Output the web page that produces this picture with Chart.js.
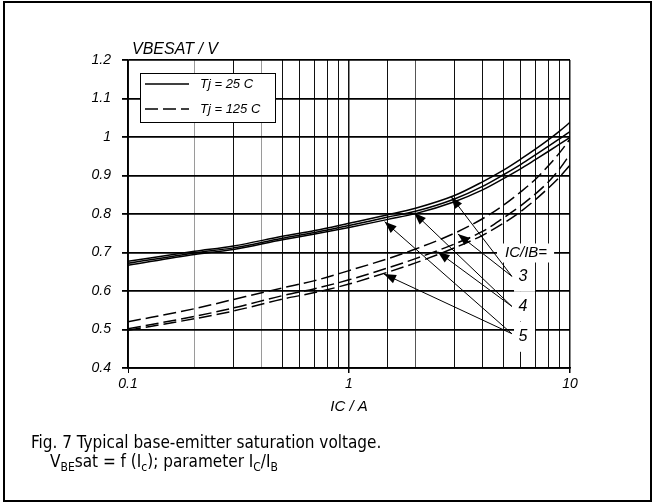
<!DOCTYPE html>
<html>
<head>
<meta charset="utf-8">
<script src="https://cdn.jsdelivr.net/npm/chart.js@4/dist/chart.umd.min.js"></script>
<style>
  html, body { margin: 0; padding: 0; background: #fff; }
  #wrap { position: relative; width: 652px; height: 504px; overflow: hidden; }
  #frame { position: absolute; left: 3px; top: 1px; width: 645px; height: 497px; border: 2px solid #000; pointer-events: none; }
  canvas { position: absolute; left: 0; top: 0; }
  #caption { position: absolute; left: 31px; top: 433px; font-family: 'Liberation Sans Narrow', 'DejaVu Sans Condensed', 'Liberation Sans', sans-serif; font-size: 17px; line-height: 19px; color: #000; white-space: nowrap; }
  #caption .l2 { padding-left: 19px; }
  #caption sub { font-size: 12px; line-height: 0; vertical-align: -4px; }
</style>
</head>
<body>
<div id="wrap">
  <canvas id="c" width="652" height="504"></canvas>
  <div id="caption">Fig. 7 Typical base-emitter saturation voltage.<br><span class="l2">V<sub>BE</sub>sat = f (I<sub>c</sub>); parameter I<sub>C</sub>/I<sub>B</sub></span></div>
  <div id="frame"></div>
</div>
<script>
// Collector current samples (A)
const currents = [0.1, 0.2, 0.3, 0.5, 0.7, 1, 1.5, 2, 3, 4, 5, 6, 7, 8, 9, 10];

// VBE(sat) in volts, Tj = 25 C, for IC/IB = 3, 4, 5
const vbe25_ratio3 = [0.677, 0.703, 0.717, 0.742, 0.757, 0.776, 0.798, 0.815, 0.848, 0.883, 0.914, 0.943, 0.969, 0.993, 1.016, 1.038];
const vbe25_ratio4 = [0.672, 0.699, 0.712, 0.737, 0.752, 0.770, 0.792, 0.807, 0.839, 0.871, 0.902, 0.929, 0.954, 0.976, 0.996, 1.014];
const vbe25_ratio5 = [0.667, 0.695, 0.708, 0.733, 0.748, 0.765, 0.786, 0.801, 0.832, 0.862, 0.892, 0.918, 0.942, 0.963, 0.982, 0.999];

// VBE(sat) in volts, Tj = 125 C, for IC/IB = 3, 4, 5
const vbe125_ratio3 = [0.520, 0.554, 0.578, 0.608, 0.627, 0.653, 0.684, 0.709, 0.750, 0.787, 0.823, 0.858, 0.891, 0.926, 0.960, 0.995];
const vbe125_ratio4 = [0.502, 0.534, 0.556, 0.588, 0.606, 0.629, 0.660, 0.684, 0.722, 0.754, 0.790, 0.822, 0.853, 0.884, 0.918, 0.955];
const vbe125_ratio5 = [0.498, 0.528, 0.548, 0.579, 0.596, 0.618, 0.649, 0.673, 0.712, 0.744, 0.776, 0.807, 0.838, 0.868, 0.897, 0.927];

// Axis tick labels
const xTickLabels = [0.1, 1, 10];
const yMin = 0.4, yMax = 1.2, yStep = 0.1;

// Legend entries
const legendNames = ['Tj = 25 C', 'Tj = 125 C'];

// IC/IB parameter callouts (data coordinates: current in A, voltage in V)
const ratioTitle = 'IC/IB=';
const ratioTitlePos = [5.08, 0.70];
const ratioNames = ['3', '4', '5'];
const ratioLabelIc = 6.13;
const ratioLabelV = [0.638, 0.560, 0.481];
const arrowTailIc = 5.46;
const arrowTailV = [0.638, 0.560, 0.489];
const arrowTips25 = [[2.90, 0.845], [1.97, 0.803], [1.45, 0.780]];
const arrowTips125 = [[3.11, 0.748], [2.52, 0.702], [1.44, 0.644]];

const FONT = "'Liberation Sans', Arial, Helvetica, sans-serif";
const DASH = [13, 5];

function pts(vals) { return currents.map((x, i) => ({ x: x, y: vals[i] })); }

function line(label, vals, dashed) {
  return {
    label: label,
    data: pts(vals),
    borderColor: '#000',
    borderWidth: 1.5,
    borderDash: dashed ? DASH : [],
    pointRadius: 0,
    fill: false,
    tension: 0.4,
    cubicInterpolationMode: 'monotone'
  };
}

function near(v, t) { return Math.abs(Math.log10(v) - Math.log10(t)) < 1e-6; }
function isLabelled(v) { return xTickLabels.some(t => near(v, t)); }

// Draws callout backgrounds, arrows, parameter labels and the legend box
const annotations = {
  id: 'annotations',
  beforeDatasetsDraw(chart) {
    const ctx = chart.ctx, xs = chart.scales.x, ys = chart.scales.y, a = chart.chartArea;
    ctx.save();
    ctx.fillStyle = '#fff';
    // white backing behind the parameter labels
    ctx.font = 'italic 15px ' + FONT;
    const tx = xs.getPixelForValue(ratioTitlePos[0]);
    const ty = ys.getPixelForValue(ratioTitlePos[1]);
    const tw = ctx.measureText(ratioTitle).width;
    ctx.fillRect(tx - 8, ty - 9, tw + 15, 19);
    ratioNames.forEach((n, i) => {
      const cx = xs.getPixelForValue(ratioLabelIc);
      const cy = ys.getPixelForValue(ratioLabelV[i]);
      ctx.fillRect(cx - 9, cy - 15, 21, 30);
    });
    // legend box
    const lx = a.left + 12, ly = a.top + 13, lw = 135, lh = 49;
    ctx.fillRect(lx, ly, lw, lh);
    ctx.strokeStyle = '#000';
    ctx.lineWidth = 1;
    ctx.strokeRect(lx + 0.5, ly + 0.5, lw, lh);
    ctx.restore();
  },
  afterDatasetsDraw(chart) {
    const ctx = chart.ctx, xs = chart.scales.x, ys = chart.scales.y, a = chart.chartArea;
    ctx.save();
    ctx.strokeStyle = '#000';
    ctx.fillStyle = '#000';
    ctx.lineWidth = 1;
    const arrow = (x0, y0, x1, y1) => {
      ctx.beginPath();
      ctx.moveTo(x0, y0);
      ctx.lineTo(x1, y1);
      ctx.stroke();
      const ang = Math.atan2(y1 - y0, x1 - x0);
      const L = 12, W = 4.5;
      const bx = x1 - L * Math.cos(ang), by = y1 - L * Math.sin(ang);
      ctx.beginPath();
      ctx.moveTo(x1, y1);
      ctx.lineTo(bx + W * Math.sin(ang), by - W * Math.cos(ang));
      ctx.lineTo(bx - W * Math.sin(ang), by + W * Math.cos(ang));
      ctx.closePath();
      ctx.fill();
    };
    ratioNames.forEach((n, i) => {
      const x0 = xs.getPixelForValue(arrowTailIc), y0 = ys.getPixelForValue(arrowTailV[i]);
      arrow(x0, y0, xs.getPixelForValue(arrowTips25[i][0]), ys.getPixelForValue(arrowTips25[i][1]));
      arrow(x0, y0, xs.getPixelForValue(arrowTips125[i][0]), ys.getPixelForValue(arrowTips125[i][1]));
    });
    // parameter labels
    ctx.font = 'italic 15px ' + FONT;
    ctx.textBaseline = 'middle';
    ctx.textAlign = 'left';
    ctx.fillText(ratioTitle, xs.getPixelForValue(ratioTitlePos[0]), ys.getPixelForValue(ratioTitlePos[1]));
    ctx.font = 'italic 16px ' + FONT;
    ctx.textAlign = 'center';
    ratioNames.forEach((n, i) => {
      ctx.fillText(n, xs.getPixelForValue(ratioLabelIc), ys.getPixelForValue(ratioLabelV[i]));
    });
    // legend entries
    const lx = a.left + 12, ly = a.top + 13;
    ctx.lineWidth = 1.5;
    ctx.font = 'italic 13px ' + FONT;
    ctx.textAlign = 'left';
    legendNames.forEach((name, i) => {
      const y = ly + 11 + i * 25;
      ctx.setLineDash(i === 0 ? [] : DASH);
      ctx.beginPath();
      ctx.moveTo(lx + 5, y);
      ctx.lineTo(lx + 49, y);
      ctx.stroke();
      ctx.setLineDash([]);
      ctx.fillText(name, lx + 60, y);
    });
    // y-axis title
    ctx.font = 'italic 16px ' + FONT;
    ctx.textBaseline = 'alphabetic';
    ctx.fillText('VBESAT / V', a.left + 4, a.top - 6);
    ctx.restore();
  }
};

new Chart(document.getElementById('c'), {
  type: 'line',
  data: {
    datasets: [
      line('Tj = 25 C, IC/IB = 3', vbe25_ratio3, false),
      line('Tj = 25 C, IC/IB = 4', vbe25_ratio4, false),
      line('Tj = 25 C, IC/IB = 5', vbe25_ratio5, false),
      line('Tj = 125 C, IC/IB = 3', vbe125_ratio3, true),
      line('Tj = 125 C, IC/IB = 4', vbe125_ratio4, true),
      line('Tj = 125 C, IC/IB = 5', vbe125_ratio5, true)
    ]
  },
  options: {
    responsive: false,
    devicePixelRatio: 1,
    animation: false,
    events: [],
    layout: { padding: { left: 0, right: 82, top: 60, bottom: 88 } },
    plugins: { legend: { display: false }, tooltip: { enabled: false }, title: { display: false } },
    scales: {
      x: {
        type: 'logarithmic',
        position: 'bottom',
        min: 0.1,
        max: 10,
        afterFit(s) { s.height = 48; },
        ticks: {
          autoSkip: false,
          maxRotation: 0,
          minRotation: 0,
          padding: 3,
          color: '#000',
          font: { family: FONT, size: 14, style: 'italic' },
          callback(v) {
            const t = xTickLabels.find(t => near(v, t));
            return t === undefined ? '' : String(t);
          }
        },
        grid: {
          color(c) {
            const v = c.tick ? c.tick.value : 1;
            if (near(v, 0.2) || near(v, 0.4)) return '#9a9a9a';
            if (near(v, 2)) return '#555';
            return '#111';
          },
          lineWidth(c) {
            const v = c.tick ? c.tick.value : 1;
            return (near(v, 1) || near(v, 10)) ? 1.5 : 1;
          },
          tickLength: 5,
          tickColor(c) { return c.tick && isLabelled(c.tick.value) ? '#000' : 'rgba(0,0,0,0)'; }
        },
        border: { display: true, color: '#000', width: 1.8 },
        title: {
          display: true,
          text: 'IC / A',
          color: '#000',
          font: { family: FONT, size: 15, style: 'italic' },
          padding: { top: 0, bottom: 0 }
        }
      },
      y: {
        type: 'linear',
        min: yMin,
        max: yMax,
        afterFit(s) { s.width = 128; },
        ticks: {
          stepSize: yStep,
          padding: 11,
          color: '#000',
          font: { family: FONT, size: 14, style: 'italic' },
          callback(v) { return String(Number(v.toFixed(1))); }
        },
        grid: { color: '#000', lineWidth: 1.8, tickLength: 6, tickColor: '#000' },
        border: { display: true, color: '#000', width: 1.2 }
      }
    }
  },
  plugins: [annotations]
});
</script>
</body>
</html>
